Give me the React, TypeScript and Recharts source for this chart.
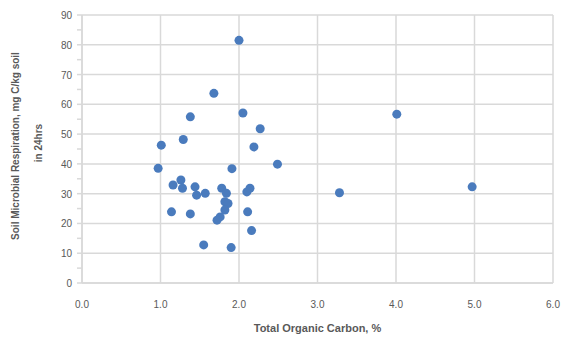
import React from "react";
import { ScatterChart, Scatter, XAxis, YAxis, CartesianGrid, Label } from "recharts";

const tocPercent = [
  2.0, 1.68, 2.05, 1.38, 2.27, 1.29, 1.01, 2.19, 2.49, 0.97, 1.91,
  1.16, 1.26, 1.28, 1.44, 1.46, 1.57, 1.78, 1.84, 1.82, 1.86, 1.82, 1.76, 1.72,
  2.1, 2.14, 1.14, 1.38, 2.11, 2.16, 1.55, 1.9, 4.01, 3.28, 4.97,
];
const respiration = [
  81.5, 63.7, 57.1, 55.8, 51.8, 48.2, 46.3, 45.7, 39.9, 38.5, 38.4,
  32.9, 34.6, 31.8, 32.3, 29.5, 30.1, 31.8, 30.1, 27.3, 26.7, 24.5, 22.2, 21.1,
  30.6, 31.8, 23.9, 23.2, 23.9, 17.6, 12.8, 11.9, 56.7, 30.3, 32.3,
];
const xTicks = [0, 1, 2, 3, 4, 5, 6];
const yMajor = [0, 10, 20, 30, 40, 50, 60, 70, 80, 90];
const yAll = [0, 5, 10, 15, 20, 25, 30, 35, 40, 45, 50, 55, 60, 65, 70, 75, 80, 85, 90];

const points = tocPercent.map((x, i) => ({ x, y: respiration[i] }));

const FONT = "'Liberation Sans', Arial, sans-serif";
const TXT = "#595959";
const GRID = "#d9d9d9";

const YTick = (props: any) => {
  const { x, y, payload } = props;
  if (payload.value % 10 !== 0) return null;
  return (
    <text x={x - 3} y={y} dy={4} textAnchor="end" fontSize={10} fontFamily={FONT} fill={TXT}>
      {payload.value}
    </text>
  );
};

const YTitle = (props: any) => {
  const { viewBox } = props;
  const cy = viewBox.y + viewBox.height / 2;
  return (
    <g>
      <text
        transform={`translate(${15},${cy - 3}) rotate(-90)`}
        textAnchor="middle"
        dominantBaseline="central"
        fontSize={10}
        fontWeight="bold"
        fontFamily={FONT}
        fill={TXT}
      >
        Soil Microbial Respiration, mg C/kg soil
      </text>
      <text
        transform={`translate(${38},${cy - 6}) rotate(-90)`}
        textAnchor="middle"
        dominantBaseline="central"
        fontSize={10}
        fontWeight="bold"
        fontFamily={FONT}
        fill={TXT}
      >
        in 24hrs
      </text>
    </g>
  );
};

export default function App() {
  return (
    <div style={{ position: "absolute", left: 0, top: 0, width: 565, height: 339 }}>
      <ScatterChart width={565} height={339} margin={{ top: 15, right: 12, left: 0, bottom: 0 }}>
        <CartesianGrid
          stroke={GRID}
          strokeWidth={1.5}
          horizontalValues={yMajor}
          verticalValues={xTicks}
        />
        <XAxis
          type="number"
          dataKey="x"
          domain={[0, 6]}
          ticks={xTicks}
          tickFormatter={(v: number) => v.toFixed(1)}
          tickLine={false}
          axisLine={{ stroke: GRID, strokeWidth: 1.5 }}
          tick={{ fontSize: 10, fontFamily: FONT, fill: TXT }}
          tickMargin={12}
          height={56}
        >
          <Label
            value="Total Organic Carbon, %"
            position="insideBottom"
            offset={7}
            style={{ fontSize: 11, fontFamily: FONT, fill: TXT, fontWeight: "bold" }}
          />
        </XAxis>
        <YAxis
          type="number"
          dataKey="y"
          domain={[0, 90]}
          ticks={yAll}
          interval={0}
          tick={<YTick />}
          tickLine={{ stroke: GRID, strokeWidth: 1.5 }}
          tickSize={5}
          axisLine={{ stroke: GRID, strokeWidth: 1.5 }}
          width={82}
        >
          <Label content={<YTitle />} />
        </YAxis>
        <Scatter
          data={points}
          fill="#4a7bbd"
          isAnimationActive={false}
          shape={(p: any) => <circle cx={p.cx} cy={p.cy} r={4.5} fill="#4a7bbd" />}
        />
      </ScatterChart>
    </div>
  );
}
